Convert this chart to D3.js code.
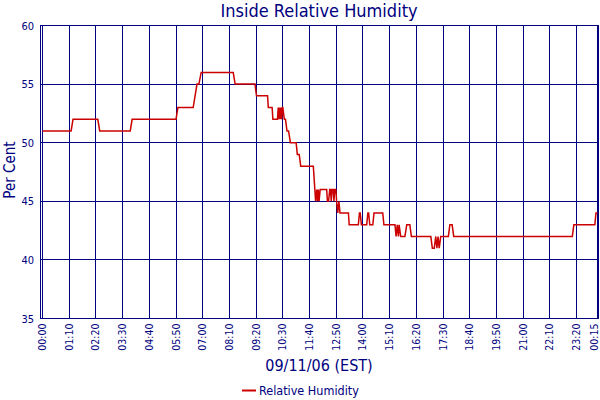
<!DOCTYPE html>
<html>
<head>
<meta charset="utf-8">
<script src="https://cdn.jsdelivr.net/npm/d3@7"></script>
<style>
html,body{margin:0;padding:0;background:#fff;}
svg{display:block;}
text{font-family:"DejaVu Sans Condensed","DejaVu Sans",sans-serif;font-stretch:condensed;}
</style>
</head>
<body>
<svg id="chart" width="600" height="400"></svg>
<script>
// ---- data ----
const tickMinutes = [0,70,140,210,280,350,420,490,560,630,700,770,840,910,980,1050,1120,1190,1260,1330,1400,1455];
const tickLabels = ["00:00","01:10","02:20","03:30","04:40","05:50","07:00","08:10","09:20","10:30","11:40","12:50","14:00","15:10","16:20","17:30","18:40","19:50","21:00","22:10","23:20","00:15"];
const yTicks = [35,40,45,50,55,60];
// minutes since 00:00 on 09/11/06
const times = [0,75,80,145,150,230,235,350,355,395,400,405,410,416,500,505,557,561,590,592,602,604,616,618,620,622,624,626,627,629,630,634,637,641,645,650,665,668,673,677,710,712,714,716,719,721,723,725,728,745,747,750,753,755,757,759,762,764,766,769,771,774,777,780,802,804,828,831,833,836,850,853,855,858,866,869,892,895,924,927,930,933,935,939,950,955,963,967,1018,1022,1027,1031,1034,1037,1040,1044,1064,1068,1074,1078,1389,1393,1448,1451,1455];
const humidity = [51,51,52,52,51,51,52,52,53,53,54,55,55,56,56,55,55,54,54,53,53,52,52,53,52,53,52,53,52,53,53,52,52,51,51,50,50,49,49,48,48,47,46,45,46,45,46,45,46,46,45,45,46,46,45,46,46,45,46,46,45,44,45,44,44,43,43,44,44,43,43,44,44,43,43,44,44,43,43,42,43,42,43,42,42,43,43,42,42,41,41,42,41,42,41,42,42,43,43,42,42,43,43,44,44];
const seriesName = "Relative Humidity";

// ---- drawing ----
const navy = "#000080";
const svg = d3.select("#chart");
const L = 40.5, R = 598.5, T = 25.5, B = 318.5;

const x = d3.scaleLinear().domain([0,1455]).range([42.5,597.5]);
const y = d3.scaleLinear().domain([35,60]).range([B,T]);
const crisp = v => Math.round(v - 0.5) + 0.5;

// horizontal grid
svg.append("g").selectAll("line").data(yTicks.slice(1,-1)).join("line")
  .attr("x1",L).attr("x2",R)
  .attr("y1",d=>crisp(y(d))).attr("y2",d=>crisp(y(d)))
  .attr("stroke",navy).attr("stroke-width",1);

// x axis with vertical grid
const xAxis = d3.axisBottom(x).tickValues(tickMinutes)
  .tickFormat((d,i)=>tickLabels[i]).tickSize(B-T).tickSizeOuter(0);
const gx = svg.append("g").attr("transform",`translate(0,${T})`).call(xAxis);
gx.select(".domain").remove();
gx.selectAll(".tick").attr("transform",d=>`translate(${crisp(x(d))},0)`);
gx.selectAll(".tick line").attr("stroke",navy).attr("stroke-width",1);
gx.selectAll(".tick text")
  .attr("fill",navy).attr("font-size",10.5)
  .attr("transform",(d,i)=>`translate(${i===tickMinutes.length-1?-3:0},${B-T+5}) rotate(-90)`)
  .attr("x",0).attr("y",0).attr("dy","0.35em")
  .attr("text-anchor","end");

// frame
svg.append("rect").attr("x",L).attr("y",T).attr("width",R-L).attr("height",B-T)
  .attr("fill","none").attr("stroke",navy).attr("stroke-width",1);

// y axis labels
const yAxis = d3.axisLeft(y).tickValues(yTicks).tickSize(0).tickPadding(0);
const gy = svg.append("g").attr("transform",`translate(34,0)`).call(yAxis);
gy.select(".domain").remove();
gy.selectAll(".tick text").attr("fill",navy).attr("font-size",11).attr("dy","0.32em");

// line
const pts = times.map((t,i)=>[t,humidity[i]]);
const line = d3.line().x(d=>x(d[0])).y(d=>y(d[1]));
svg.append("path").datum(pts).attr("d",line)
  .attr("fill","none").attr("stroke","#cc0000").attr("stroke-width",1.5)
  .attr("stroke-linejoin","miter");

// titles
svg.append("text").attr("x",319).attr("y",17).attr("text-anchor","middle")
  .attr("fill",navy).attr("font-size",18).text("Inside Relative Humidity");
svg.append("text").attr("transform","translate(15,170) rotate(-90)").attr("text-anchor","middle")
  .attr("fill",navy).attr("font-size",15).text("Per Cent");
svg.append("text").attr("x",319).attr("y",371).attr("text-anchor","middle")
  .attr("fill",navy).attr("font-size",16).text("09/11/06 (EST)");

// legend
svg.append("line").attr("x1",242).attr("x2",256).attr("y1",390.5).attr("y2",390.5)
  .attr("stroke","#cc0000").attr("stroke-width",2);
svg.append("text").attr("x",259).attr("y",395).attr("fill",navy).attr("font-size",12.5).text(seriesName);
</script>
</body>
</html>
